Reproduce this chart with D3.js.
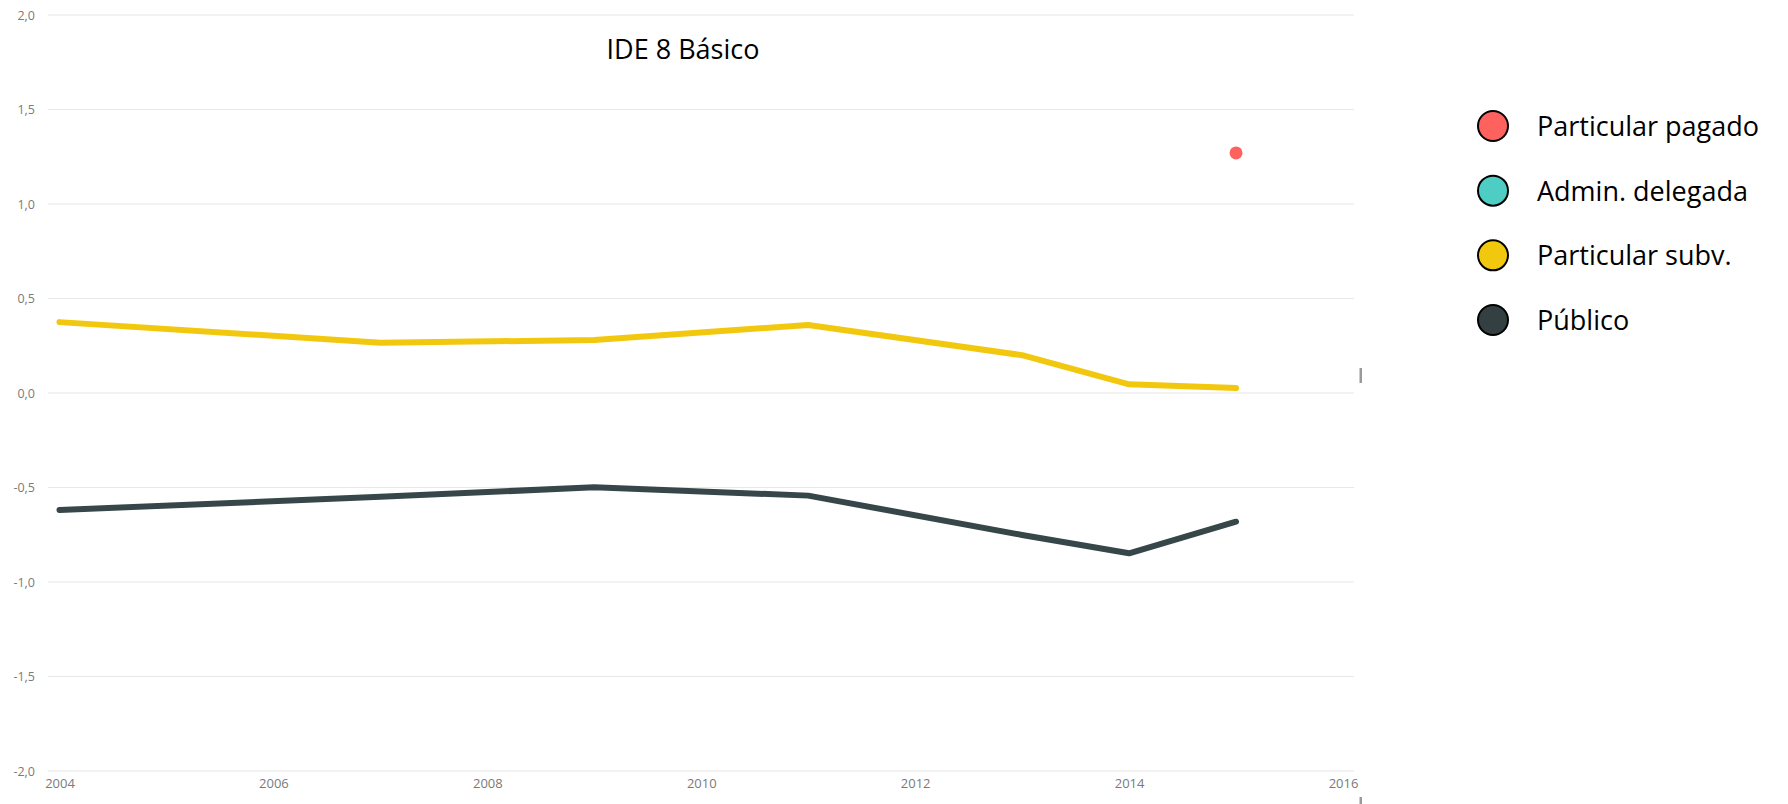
<!DOCTYPE html>
<html>
<head>
<meta charset="utf-8">
<script src="https://cdn.jsdelivr.net/npm/d3@7"></script>
<style>
  html, body { margin: 0; padding: 0; background: #fff; }
  svg { display: block; }
</style>
</head>
<body>
<svg id="chart" width="1788" height="804"></svg>
<script>
// ---- Data ----
const title = "IDE 8 Básico";
const seriesNames = ["Particular pagado", "Admin. delegada", "Particular subv.", "Público"];
const seriesColors = ["#FD625E", "#4ECDC4", "#F2C80F", "#374649"];
const legendFill = ["#FD625E", "#4ECDC4", "#F2C80F", "#333F40"];

const yearsPagado = [2015];
const valuesPagado = [1.27];

const yearsDelegada = [];
const valuesDelegada = [];

const yearsSubv = [2004, 2007, 2009, 2011, 2013, 2014, 2015];
const valuesSubv = [0.375, 0.266, 0.28, 0.36, 0.20, 0.046, 0.026];

const yearsPublico = [2004, 2007, 2009, 2011, 2013, 2014, 2015];
const valuesPublico = [-0.619, -0.549, -0.499, -0.543, -0.751, -0.848, -0.681];

const xTicks = [2004, 2006, 2008, 2010, 2012, 2014, 2016];
const yTicks = [-2.0, -1.5, -1.0, -0.5, 0.0, 0.5, 1.0, 1.5, 2.0];

// ---- Layout ----
const svg = d3.select("#chart");
const x = d3.scaleLinear().domain([2004, 2016]).range([59.5, 1343]);
const y = d3.scaleLinear().domain([-2, 2]).range([771, 15]);
const gridLeft = 48, gridRight = 1354;

const loc = d3.formatLocale({decimal: ",", thousands: ".", grouping: [3], currency: ["", ""], minus: "-"});
const yFmt = loc.format(".1f");

// gridlines
svg.append("g").selectAll("line").data(yTicks).join("line")
  .attr("x1", gridLeft).attr("x2", gridRight)
  .attr("y1", d => y(d)).attr("y2", d => y(d))
  .attr("stroke", "#e8e8e8").attr("stroke-width", 1.2);

// y axis
const yAxis = svg.append("g").attr("transform", "translate(35,0)")
  .call(d3.axisLeft(y).tickValues(yTicks).tickFormat(yFmt).tickSize(0).tickPadding(0));
yAxis.select(".domain").remove();
yAxis.selectAll("text").attr("fill", "#7a7a7a")
  .style("font-family", "'Open Sans', sans-serif").style("font-size", "12.5px");

// x axis
const xAxis = svg.append("g").attr("transform", "translate(0,777)")
  .call(d3.axisBottom(x).tickValues(xTicks).tickFormat(d3.format("d")).tickSize(0).tickPadding(2));
xAxis.select(".domain").remove();
xAxis.selectAll("text").attr("fill", "#7a7a7a")
  .style("font-family", "'Open Sans', sans-serif").style("font-size", "13px");

// small grey marks at right edge
svg.append("rect").attr("x", 1359.5).attr("y", 368).attr("width", 2.5).attr("height", 15).attr("fill", "#9a9a9a");
svg.append("rect").attr("x", 1359.5).attr("y", 797).attr("width", 2.5).attr("height", 7).attr("fill", "#9a9a9a");

// lines
const line = d3.line().x(d => x(d[0])).y(d => y(d[1]));
const lineSeries = [
  {years: yearsSubv, values: valuesSubv, color: seriesColors[2]},
  {years: yearsPublico, values: valuesPublico, color: seriesColors[3]}
];
lineSeries.forEach(s => {
  const pts = s.years.map((yr, i) => [yr, s.values[i]]);
  svg.append("path").datum(pts)
    .attr("d", line)
    .attr("fill", "none")
    .attr("stroke", s.color)
    .attr("stroke-width", 6)
    .attr("stroke-linejoin", "round")
    .attr("stroke-linecap", "round");
});

// single points
svg.append("g").selectAll("circle").data(yearsPagado.map((yr, i) => [yr, valuesPagado[i]])).join("circle")
  .attr("cx", d => x(d[0])).attr("cy", d => y(d[1])).attr("r", 6.5)
  .attr("fill", seriesColors[0]);
svg.append("g").selectAll("circle").data(yearsDelegada.map((yr, i) => [yr, valuesDelegada[i]])).join("circle")
  .attr("cx", d => x(d[0])).attr("cy", d => y(d[1])).attr("r", 6.5)
  .attr("fill", seriesColors[1]);

// title
svg.append("text").attr("x", 683).attr("y", 59).attr("text-anchor", "middle")
  .style("font-family", "'Open Sans', sans-serif").style("font-size", "27px")
  .attr("fill", "#000").text(title);

// legend
const legY = d3.scalePoint().domain(seriesNames).range([126, 320]);
const leg = svg.append("g").selectAll("g").data(seriesNames).join("g")
  .attr("transform", d => `translate(1493,${legY(d)})`);
leg.append("circle").attr("r", 15).attr("fill", (d, i) => legendFill[i])
  .attr("stroke", "#000").attr("stroke-width", 2);
leg.append("text").attr("x", 44).attr("y", 10)
  .style("font-family", "'Open Sans', sans-serif").style("font-size", "27px")
  .attr("fill", "#000").text(d => d);
</script>
</body>
</html>
